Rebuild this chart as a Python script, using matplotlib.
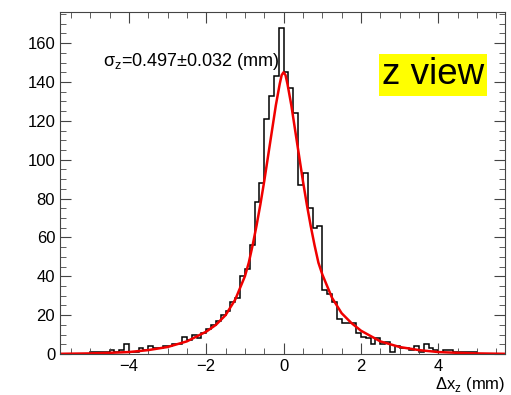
import numpy as np
import matplotlib
matplotlib.use("Agg")
import matplotlib.pyplot as plt
from matplotlib.ticker import MultipleLocator

plt.rcParams["font.family"] = ["Liberation Sans", "DejaVu Sans"]

# histogram: 80 bins of 0.125 mm from -5 to 5
bin_edges = np.linspace(-5, 5, 81)
counts = [1, 1, 1, 1, 2, 1, 2, 5, 1, 1,
          3, 2, 4, 3, 3, 4, 4, 5, 5, 9,
          7, 10, 8, 11, 13, 15, 17, 20, 22, 27,
          29, 40, 44, 56, 78, 88, 121, 133, 143, 168,
          145, 137, 124, 87, 93, 75, 65, 66, 33, 31,
          27, 18, 16, 16, 16, 11, 9, 8, 5, 8,
          5, 6, 1, 4, 3, 3, 2, 4, 1, 5,
          3, 2, 1, 2, 2, 1, 1, 1, 1, 1]

# fitted curve
fit_x = [-5.78, -5.0, -4.5, -4.0, -3.5, -3.0, -2.5, -2.0, -1.75, -1.5, -1.25,
         -1.0, -0.9, -0.8, -0.7, -0.6, -0.5, -0.4, -0.3, -0.2, -0.1, -0.05, 0.0,
         0.05, 0.1, 0.2, 0.3, 0.4, 0.5, 0.6, 0.7, 0.8, 0.9, 1.0,
         1.25, 1.5, 1.75, 2.0, 2.5, 3.0, 3.5, 4.0, 4.5, 5.0, 5.72]
fit_y = [0.1, 0.3, 0.6, 1.0, 2.0, 3.6, 6.5, 11.5, 15, 20, 28,
         40, 47, 56, 66, 77, 89, 102, 115, 128, 139, 143.5, 145,
         143.5, 139, 128, 115, 102, 89, 77, 66, 56, 47, 41,
         29, 21, 16, 12, 6.5, 3.6, 2.0, 1.0, 0.6, 0.3, 0.1]

fig = plt.figure(figsize=(5.11, 3.95), dpi=100)
ax = fig.add_axes([0.1174, 0.1038, 0.8706, 0.8658])

ax.stairs(counts, bin_edges, color="black", linewidth=1.1)
ax.plot(fit_x, fit_y, color="#f00000", linewidth=1.8)

ax.set_xlim(-5.78, 5.72)
ax.set_ylim(0, 176)
ax.xaxis.set_major_locator(MultipleLocator(2))
ax.xaxis.set_minor_locator(MultipleLocator(0.5))
ax.yaxis.set_major_locator(MultipleLocator(20))
ax.yaxis.set_minor_locator(MultipleLocator(5))
ax.tick_params(which="both", direction="in", top=True, right=True,
               labelsize=12, color="#444444")
ax.tick_params(which="major", length=8)
ax.tick_params(which="minor", length=4)
ax.set_xticks([-4, -2, 0, 2, 4])
ax.set_xticklabels(["\u22124", "\u22122", "0", "2", "4"])
for s in ax.spines.values():
    s.set_color("#444444")

ax.text(0.097, 0.854, r"σ$_\mathregular{z}$=0.497±0.032 (mm)", transform=ax.transAxes,
        fontsize=13, va="center")
ax.text(0.953, 0.816, "z view", transform=ax.transAxes, fontsize=26.5,
        ha="right", va="center",
        bbox=dict(facecolor="yellow", edgecolor="none", pad=2.5))
fig.text(0.988, 0.015, r"Δx$_\mathregular{z}$ (mm)", ha="right", va="baseline",
         fontsize=12)

fig.savefig("out.png", dpi=100)
